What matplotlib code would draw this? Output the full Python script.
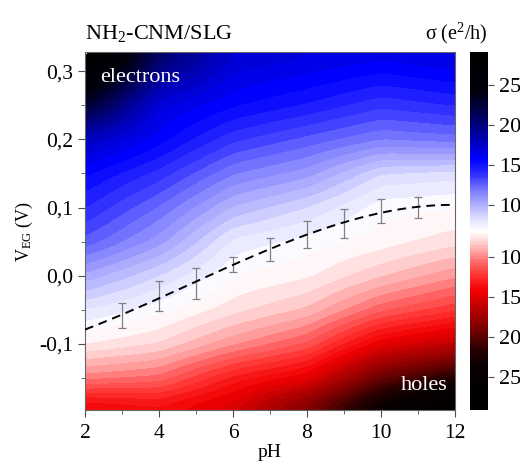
import numpy as np
import matplotlib.pyplot as plt
from matplotlib.colors import LinearSegmentedColormap, Normalize
from matplotlib.cm import ScalarMappable
from matplotlib.ticker import FuncFormatter, MultipleLocator

plt.rcParams['font.family'] = ['Liberation Serif', 'DejaVu Serif']
plt.rcParams['mathtext.fontset'] = 'custom'
plt.rcParams['mathtext.rm'] = 'Liberation Serif'
plt.rcParams['mathtext.it'] = 'Liberation Serif'

# Dirac point vs pH (with error bars)
ph = [3, 4, 5, 6, 7, 8, 9, 10, 11]
v_dirac = [-0.058, -0.030, -0.011, 0.017, 0.039, 0.060, 0.077, 0.095, 0.100]
v_err = [0.018, 0.022, 0.023, 0.011, 0.017, 0.020, 0.021, 0.017, 0.016]

# signed conductivity map (+ electrons, - holes),
# in colour-scale units: sign * (sigma - sigma_min)
ph_cols = [2, 4, 6, 8, 10, 12]
v_rows = [-0.19, -0.15, -0.10, -0.05, 0.0, 0.05, 0.10, 0.15, 0.20, 0.25, 0.32]
sig_ph2 = [-7.5, -3.5, -0.6, 1.2, 3.5, 6.0, 7.5, 8.8, 11.0, 16.0, 23.0]
sig_ph4 = [-7.0, -4.0, -1.3, 0.2, 1.8, 4.0, 5.5, 7.2, 9.0, 10.0, 14.0]
sig_ph6 = [-8.5, -6.5, -3.0, -1.0, 0.0, 1.0, 3.0, 5.0, 7.0, 8.8, 10.5]
sig_ph8 = [-12.0, -8.0, -4.5, -2.0, -0.5, 0.3, 1.8, 4.0, 6.0, 8.0, 10.0]
sig_ph10 = [-17.0, -13.0, -8.0, -4.2, -1.8, -0.3, 0.2, 1.8, 5.0, 7.0, 9.5]
sig_ph12 = [-21.0, -15.5, -9.5, -5.5, -3.0, -1.0, 0.0, 1.5, 5.3, 7.5, 10.0]

sigma_min = 6.7
cbar_sigma = [10, 15, 20, 25]
c_lim = 22.4

# colour scale: holes black-red-white, electrons white-blue-black
cmap_pos = [-22.4, -17, -15, -12.5, -9, -7.5, -5.5, -4, -2.5, -1, 0,
            1.5, 3, 5, 7, 9, 12, 15, 17.5, 22.4]
cmap_col = [(0, 0, 0), (0.03, 0, 0), (0.15, 0, 0), (0.45, 0, 0), (0.8, 0, 0),
            (0.95, 0, 0), (1, 0.2, 0.2), (1, 0.4, 0.4), (1, 0.65, 0.65),
            (1, 0.88, 0.88), (1, 1, 1), (0.88, 0.88, 1), (0.72, 0.72, 1),
            (0.5, 0.5, 1), (0.2, 0.2, 1), (0, 0, 1), (0, 0, 0.65),
            (0, 0, 0.3), (0, 0, 0.05), (0, 0, 0)]
cmap = LinearSegmentedColormap.from_list(
    'eh', list(zip([(p + c_lim) / (2 * c_lim) for p in cmap_pos], cmap_col)))
norm = Normalize(-c_lim, c_lim)

# fine grid for the filled map
ph_f = np.linspace(2, 12, 301)
v_f = np.linspace(-0.197, 0.328, 301)
table = np.array([sig_ph2, sig_ph4, sig_ph6, sig_ph8, sig_ph10, sig_ph12])
cols = np.array([np.interp(v_f, v_rows, c) for c in table])          # (6, nv)
Z = np.array([np.interp(ph_f, ph_cols, cols[:, j]) for j in range(len(v_f))])

# light smoothing so the contours are not kinked at the grid lines
k = np.exp(-0.5 * (np.arange(-15, 16) / 5.0) ** 2)
k /= k.sum()
Zp = np.pad(Z, 15, mode='edge')
Zp = np.apply_along_axis(lambda r: np.convolve(r, k, mode='same'), 1, Zp)
Zp = np.apply_along_axis(lambda r: np.convolve(r, k, mode='same'), 0, Zp)
Z = Zp[15:-15, 15:-15]

fig = plt.figure(figsize=(5.2, 4.65), dpi=100)
ax = fig.add_axes([0.1635, 0.118, 0.7115, 0.77])
cax = fig.add_axes([0.904, 0.118, 0.034, 0.77])

ax.contourf(ph_f, v_f, Z, levels=np.linspace(-c_lim, c_lim, 73), cmap=cmap, norm=norm)

# trend line through the Dirac points
fit = np.polyfit(ph, v_dirac, 3)
ph_line = np.linspace(2, 12, 100)
ax.plot(ph_line, np.polyval(fit, ph_line), color='black', lw=1.4, dashes=(4.5, 3), zorder=4)
ax.errorbar(ph, v_dirac, yerr=v_err, fmt='none', ecolor='0.5', elinewidth=0.9,
            capsize=3, capthick=0.9, zorder=3)

ax.set_xlim(2, 12)
ax.set_ylim(-0.197, 0.328)
ax.xaxis.set_major_locator(MultipleLocator(2))
ax.xaxis.set_minor_locator(MultipleLocator(1))
ax.yaxis.set_major_locator(MultipleLocator(0.1))
ax.yaxis.set_minor_locator(MultipleLocator(0.05))
ax.yaxis.set_major_formatter(FuncFormatter(lambda v, p: f'{v:.1f}'.replace('.', ',').replace('-0,0', '0,0')))
ax.tick_params(which='both', direction='out', labelsize=15.5, color='0.3')
ax.tick_params(which='major', length=5)
ax.tick_params(which='minor', length=3)
ax.tick_params(axis='x', pad=5)
ax.set_xlabel('pH', fontsize=14, labelpad=1)
ax.set_ylabel('V$_{EG}$ (V)', fontsize=13, labelpad=3)
for s in ax.spines.values():
    s.set_color('0.4')

ax.text(2.4, 0.291, 'electrons', color='white', fontsize=16, va='center', ha='left')
ax.text(11.8, -0.161, 'holes', color='white', fontsize=16, va='center', ha='right')

fig.text(0.163, 0.929, 'NH$_2$-CNM/SLG', fontsize=16, va='center', ha='left')
fig.text(0.818, 0.929, 'σ (e$^2$/h)', fontsize=14.5, va='center', ha='left')

cb = fig.colorbar(ScalarMappable(norm=norm, cmap=cmap), cax=cax)
ticks = [-(s - sigma_min) for s in cbar_sigma[::-1]] + [s - sigma_min for s in cbar_sigma]
cb.set_ticks(ticks)
cb.set_ticklabels([str(s) for s in cbar_sigma[::-1]] + [str(s) for s in cbar_sigma])
cb.outline.set_visible(False)
cax.tick_params(direction='out', length=4, pad=4, labelsize=16, color='0.3')

fig.savefig('out.png', dpi=100)
